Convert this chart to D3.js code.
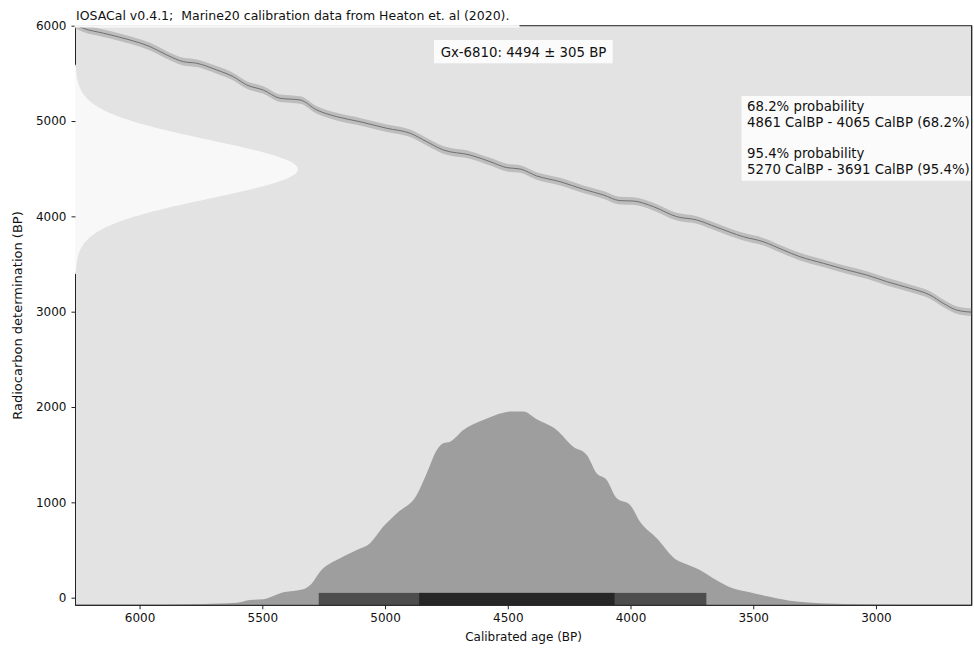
<!DOCTYPE html>
<html>
<head>
<meta charset="utf-8">
<script src="https://cdn.jsdelivr.net/npm/d3@7"></script>
<style>
  html, body { margin: 0; padding: 0; background: #ffffff; }
  svg { display: block; font-family: "DejaVu Sans", sans-serif; }
</style>
</head>
<body>
<svg id="chart" width="974" height="652"></svg>
<script>
// Radiocarbon determination
const sampleName = "Gx-6810";
const sampleAge = 4494;
const sampleSigma = 305;

// Marine20 calibration curve (cal BP, 14C BP)
const curveCal = [6261, 6229, 6147, 6039, 5957, 5889, 5822, 5767, 5686, 5618, 5563, 5496, 5428, 5346, 5278,
  5197, 5102, 4993, 4898, 4830, 4763, 4654, 4572, 4504, 4450, 4382, 4287, 4192, 4111, 4043, 3989, 3907,
  3812, 3730, 3649, 3541, 3459, 3378, 3310, 3215, 3119, 3038, 2956, 2862, 2780, 2726, 2672, 2610];
const curveC14 = [6010, 5973, 5921, 5850, 5780, 5693, 5623, 5606, 5536, 5465, 5378, 5325, 5239, 5221, 5116,
  5046, 4993, 4924, 4872, 4783, 4697, 4644, 4574, 4511, 4497, 4424, 4364, 4284, 4225, 4165, 4161, 4102,
  3997, 3962, 3886, 3787, 3734, 3647, 3577, 3508, 3438, 3385, 3315, 3246, 3175, 3088, 3018, 2995];
const curveSigma = 40;

// Calibrated probability distribution (cal BP, relative probability)
const calAge = [6261, 5900, 5740, 5604, 5550, 5496, 5414, 5333, 5300, 5265, 5183, 5115, 5061, 5007, 4952,
  4871, 4830, 4789, 4763, 4735, 4681, 4600, 4518, 4490, 4437, 4382, 4301, 4233, 4178, 4138, 4097, 4056,
  4002, 3961, 3893, 3812, 3787, 3717, 3663, 3595, 3514, 3433, 3323, 3228, 3094, 2900, 2610];
const calProb = [0, 0.002, 0.007, 0.013, 0.027, 0.031, 0.067, 0.083, 0.11, 0.173, 0.243, 0.285, 0.32, 0.406, 0.475,
  0.569, 0.681, 0.801, 0.836, 0.844, 0.905, 0.956, 0.994, 1.0, 1.0, 0.96, 0.905, 0.818, 0.776, 0.681, 0.647, 0.552,
  0.518, 0.431, 0.346, 0.234, 0.22, 0.182, 0.139, 0.093, 0.067, 0.044, 0.019, 0.01, 0.005, 0.001, 0];

// Highest density ranges
const ranges = [
  { label: "95.4% probability", from: 5270, to: 3691, pct: "95.4%" },
  { label: "68.2% probability", from: 4861, to: 4065, pct: "68.2%" }
];

const xTicks = [6000, 5500, 5000, 4500, 4000, 3500, 3000];
const yTicks = [0, 1000, 2000, 3000, 4000, 5000, 6000];

const titleText = "IOSACal v0.4.1;  Marine20 calibration data from Heaton et. al (2020).";
const xLabel = "Calibrated age (BP)";
const yLabel = "Radiocarbon determination (BP)";

const svg = d3.select("#chart");
const L = 75.5, R = 971.7, T = 25.7, B = 605.3;

const x = d3.scaleLinear().domain([6261, 2610]).range([L, R]);
const y = d3.scaleLinear().domain([-80, 6000]).range([B, T]);
const yProb = d3.scaleLinear().domain([0, 1]).range([B, 411.5]);
const gaussW = d3.scaleLinear().domain([0, 1]).range([L, 298]);

const clip = svg.append("defs").append("clipPath").attr("id", "plotclip");
clip.append("rect").attr("x", L - 0.5).attr("y", T).attr("width", R - L + 0.5).attr("height", B - T);

// plot background
svg.append("rect").attr("x", L).attr("y", T).attr("width", R - L).attr("height", B - T).attr("fill", "#e3e3e3");

// frame
svg.append("rect").attr("x", L).attr("y", T).attr("width", R - L).attr("height", B - T)
  .attr("fill", "none").attr("stroke", "#222").attr("stroke-width", 1);

const plot = svg.append("g").attr("clip-path", "url(#plotclip)");

// normal density of the determination along the radiocarbon axis
const c14Grid = d3.range(2500, 6501, 5);
const gauss = c14Grid.map(v => ({ v, p: Math.exp(-((v - sampleAge) ** 2) / (2 * sampleSigma ** 2)) }))
  .filter(d => d.p > 0.0015);
plot.append("path").datum(gauss)
  .attr("fill", "#f8f8f8")
  .attr("d", d3.area().y(d => y(d.v)).x0(L - 0.5).x1(d => gaussW(d.p)));

// calibrated distribution
const dist = calAge.map((a, i) => ({ a, p: calProb[i] }));
plot.append("path").datum(dist)
  .attr("fill", "#9e9e9e")
  .attr("d", d3.area().x(d => x(d.a)).y0(B + 1).y1(d => yProb(d.p)).curve(d3.curveMonotoneX));

// probability range bars
ranges.forEach((r, i) => {
  plot.append("rect")
    .attr("x", x(r.from)).attr("width", x(r.to) - x(r.from))
    .attr("y", y(50)).attr("height", B - y(50))
    .attr("fill", i === 0 ? "#4d4d4d" : "#262626");
});

// calibration curve with its uncertainty band
const curve = curveCal.map((c, i) => ({ c, v: curveC14[i] }));
plot.append("path").datum(curve)
  .attr("fill", "#bdbdbd")
  .attr("d", d3.area().x(d => x(d.c)).y0(d => y(d.v - curveSigma)).y1(d => y(d.v + curveSigma)).curve(d3.curveMonotoneX));
plot.append("path").datum(curve)
  .attr("fill", "none").attr("stroke", "#707070").attr("stroke-width", 1)
  .attr("d", d3.line().x(d => x(d.c)).y(d => y(d.v)).curve(d3.curveMonotoneX));

// redraw the spines that sit above the fills
svg.append("line").attr("x1", R).attr("x2", R).attr("y1", T).attr("y2", B).attr("stroke", "#222");
svg.append("line").attr("x1", L).attr("x2", R).attr("y1", B).attr("y2", B).attr("stroke", "#222");

// axes
const xAxis = svg.append("g").attr("transform", `translate(0,${B})`)
  .call(d3.axisBottom(x).tickValues(xTicks).tickSize(4).tickPadding(4).tickFormat(d3.format("d")));
const yAxis = svg.append("g").attr("transform", `translate(${L},0)`)
  .call(d3.axisLeft(y).tickValues(yTicks).tickSize(4).tickPadding(5).tickFormat(d3.format("d")));
[xAxis, yAxis].forEach(g => {
  g.select(".domain").remove();
  g.selectAll(".tick line").attr("stroke", "#222");
  g.selectAll(".tick text").attr("fill", "#111").style("font-size", "12px").style("font-family", "DejaVu Sans");
});

// axis titles
svg.append("text").attr("x", (L + R) / 2).attr("y", 641).attr("text-anchor", "middle")
  .attr("font-size", 12).attr("fill", "#111").text(xLabel);
svg.append("text").attr("transform", `translate(22,${(T + B) / 2}) rotate(-90)`).attr("text-anchor", "middle")
  .attr("font-size", 13).attr("fill", "#111").text(yLabel);

// title with its white box
svg.append("rect").attr("x", L - 1).attr("y", 4).attr("width", 445).attr("height", 23.5).attr("fill", "#ffffff").attr("opacity", 0.9);
svg.append("text").attr("x", 76).attr("y", 20).attr("font-size", 12.5).attr("fill", "#111")
  .style("white-space", "pre").text(titleText);

// determination label
svg.append("rect").attr("x", 434).attr("y", 40).attr("width", 178.7).attr("height", 23.3).attr("fill", "#ffffff").attr("opacity", 0.85);
svg.append("text").attr("x", 523.5).attr("y", 56.5).attr("text-anchor", "middle").attr("font-size", 13.3).attr("fill", "#111")
  .text(`${sampleName}: ${sampleAge} \u00b1 ${sampleSigma} BP`);

// probability ranges text box
const legendLines = [
  ranges[1].label,
  `${ranges[1].from} CalBP - ${ranges[1].to} CalBP (${ranges[1].pct})`,
  "",
  ranges[0].label,
  `${ranges[0].from} CalBP - ${ranges[0].to} CalBP (${ranges[0].pct})`
];
svg.append("rect").attr("x", 741.5).attr("y", 96).attr("width", 229.5).attr("height", 84.7).attr("fill", "#ffffff").attr("opacity", 0.85);
const lg = svg.append("text").attr("font-size", 13.3).attr("fill", "#111");
legendLines.forEach((t, i) => {
  lg.append("tspan").attr("x", 747).attr("y", 111 + i * 15.7).text(t);
});
</script>
</body>
</html>
